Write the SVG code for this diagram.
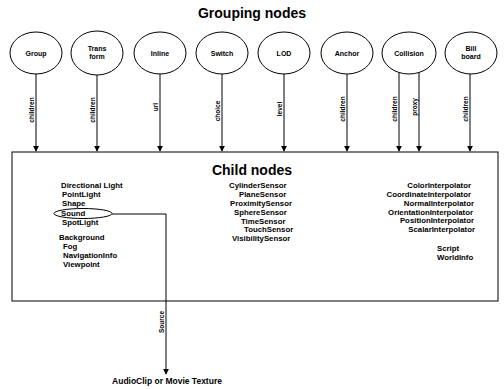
<svg xmlns="http://www.w3.org/2000/svg" width="504" height="389" viewBox="0 0 504 389">
<style>
text{font-family:"Liberation Sans",Arial,sans-serif;font-weight:bold;fill:#000}
.title{font-size:14px;text-anchor:middle}
.sub{font-size:14px;text-anchor:middle}
.nl{font-size:7px;text-anchor:middle}
.el{font-size:6.5px;text-anchor:middle}
.item{font-size:7.8px}
.ri{font-size:7.8px;text-anchor:end}
.node{fill:#fff;stroke:#000;stroke-width:1}
.conn{stroke:#000;stroke-width:1;fill:none}
</style>
<defs>
<marker id="ah" viewBox="0 0 8 8" refX="7" refY="4" markerWidth="6" markerHeight="6" orient="auto" markerUnits="userSpaceOnUse">
<path d="M0,0 L8,4 L0,8 z" fill="#000"/>
</marker>
</defs>
<rect width="504" height="389" fill="#fff"/>
<text class="title" x="252" y="18">Grouping nodes</text>

<g id="connectors">
<line class="conn" x1="36" y1="74" x2="36" y2="151" marker-end="url(#ah)"/>
<line class="conn" x1="97" y1="75" x2="97" y2="151" marker-end="url(#ah)"/>
<line class="conn" x1="160" y1="74" x2="160" y2="151" marker-end="url(#ah)"/>
<line class="conn" x1="222" y1="74" x2="222" y2="151" marker-end="url(#ah)"/>
<line class="conn" x1="284" y1="74" x2="284" y2="151" marker-end="url(#ah)"/>
<line class="conn" x1="347" y1="74" x2="347" y2="151" marker-end="url(#ah)"/>
<line class="conn" x1="399" y1="72" x2="399" y2="151" marker-end="url(#ah)"/>
<line class="conn" x1="419" y1="72" x2="419" y2="151" marker-end="url(#ah)"/>
<line class="conn" x1="470" y1="74" x2="470" y2="151" marker-end="url(#ah)"/>
<text class="el" transform="translate(34,110) rotate(-90)">children</text>
<text class="el" transform="translate(95,110) rotate(-90)">children</text>
<text class="el" transform="translate(158,107) rotate(-90)">url</text>
<text class="el" transform="translate(220,111) rotate(-90)">choice</text>
<text class="el" transform="translate(282,109) rotate(-90)">level</text>
<text class="el" transform="translate(345,109) rotate(-90)">children</text>
<text class="el" transform="translate(397,109) rotate(-90)">children</text>
<text class="el" transform="translate(417,107) rotate(-90)">proxy</text>
<text class="el" transform="translate(468,109) rotate(-90)">children</text>
<path class="conn" d="M112,214 H166 V374" marker-end="url(#ah)"/>
<text class="el" transform="translate(164,322) rotate(-90)">Source</text>
</g>

<g id="group"><ellipse class="node" cx="36" cy="53" rx="26" ry="21"/><text class="nl" x="36" y="55.5">Group</text></g>
<g id="transform"><ellipse class="node" cx="97" cy="53" rx="26" ry="22"/><text class="nl" x="97" y="51">Trans</text><text class="nl" x="97" y="59">form</text></g>
<g id="inline"><ellipse class="node" cx="160" cy="53" rx="26" ry="21"/><text class="nl" x="160" y="55.5">Inline</text></g>
<g id="switch"><ellipse class="node" cx="222" cy="53" rx="26" ry="21"/><text class="nl" x="222" y="55.5">Switch</text></g>
<g id="lod"><ellipse class="node" cx="284" cy="53" rx="26" ry="21"/><text class="nl" x="284" y="55.5">LOD</text></g>
<g id="anchor"><ellipse class="node" cx="347" cy="53" rx="26" ry="21"/><text class="nl" x="347" y="55.5">Anchor</text></g>
<g id="collision"><ellipse class="node" cx="409" cy="53" rx="27" ry="21"/><text class="nl" x="409" y="55.5">Collision</text></g>
<g id="billboard"><ellipse class="node" cx="471" cy="53" rx="26" ry="21"/><text class="nl" x="471" y="51">Bill</text><text class="nl" x="471" y="59">board</text></g>

<g id="child-nodes">
<rect x="12" y="152" width="486" height="149" fill="none" stroke="#000" stroke-width="1"/>
<text class="sub" x="252" y="175">Child nodes</text>
<text class="item" x="61" y="188">Directional Light</text>
<text class="item" x="62" y="197">PointLight</text>
<text class="item" x="62" y="206">Shape</text>
<text class="item" x="61" y="216">Sound</text>
<text class="item" x="62" y="225">SpotLight</text>
<text class="item" x="59" y="240">Background</text>
<text class="item" x="63" y="249">Fog</text>
<text class="item" x="63" y="258">NavigationInfo</text>
<text class="item" x="63" y="267">Viewpoint</text>
<text class="item" x="229" y="188">CylinderSensor</text>
<text class="item" x="239" y="197">PlaneSensor</text>
<text class="item" x="230" y="206">ProximitySensor</text>
<text class="item" x="234" y="215">SphereSensor</text>
<text class="item" x="241" y="224">TimeSensor</text>
<text class="item" x="244" y="232">TouchSensor</text>
<text class="item" x="232" y="241">VisibilitySensor</text>
<text class="ri" x="471" y="188">ColorInterpolator</text>
<text class="ri" x="471" y="197">CoordinateInterpolator</text>
<text class="ri" x="474" y="206">NormalInterpolator</text>
<text class="ri" x="473" y="215">OrientationInterpolator</text>
<text class="ri" x="474" y="223">PositionInterpolator</text>
<text class="ri" x="475" y="232">ScalarInterpolator</text>
<text class="item" x="437" y="251">Script</text>
<text class="item" x="437" y="260">WorldInfo</text>
</g>
<g id="sound-mark"><ellipse cx="83" cy="213.5" rx="29" ry="5" fill="none" stroke="#000" stroke-width="1"/></g>
<g id="audioclip"><text class="item" x="167" y="384" text-anchor="middle" style="font-size:8.5px">AudioClip or Movie Texture</text></g>
</svg>
